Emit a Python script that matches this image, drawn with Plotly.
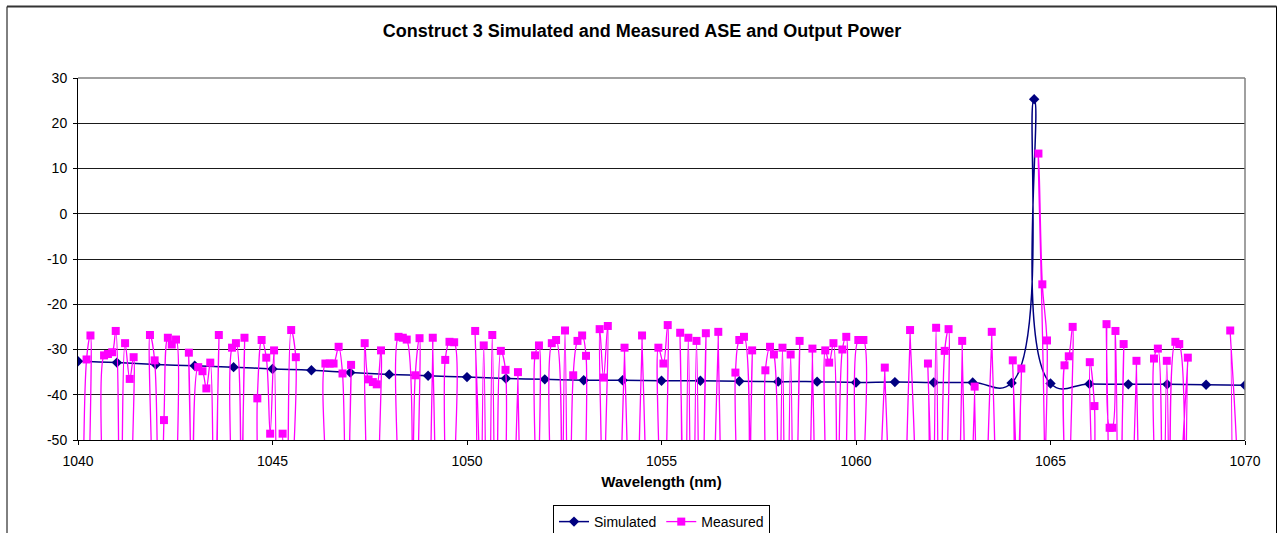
import plotly.graph_objects as go

# ---------------- data ----------------
sim_wavelength = [1040, 1041, 1042, 1043, 1044, 1045, 1046, 1047, 1048, 1049,
                  1050, 1051, 1052, 1053, 1054, 1055, 1056, 1057, 1058, 1059,
                  1060, 1061, 1062, 1063, 1064, 1064.58, 1065, 1066, 1067, 1068,
                  1069, 1070]
sim_power = [-32.6, -32.9, -33.3, -33.6, -33.9, -34.3, -34.6, -35.1, -35.5, -35.8,
             -36.1, -36.4, -36.6, -36.8, -36.8, -36.9, -36.9, -37.0, -37.1, -37.1,
             -37.3, -37.2, -37.3, -37.3, -37.4, 25.3, -37.5, -37.6, -37.7, -37.7,
             -37.8, -37.9]

D = -100  # measured samples far below the -50 axis floor (off chart)

meas_wavelength = [
    1040.12, 1040.22, 1040.32, 1040.42, 1040.57, 1040.67, 1040.77, 1040.88, 1040.97, 1041.09,
    1041.21, 1041.33, 1041.43, 1041.52, 1041.76, 1041.85, 1041.97, 1042.09,
    1042.21, 1042.31, 1042.41, 1042.52, 1042.61, 1042.76, 1042.85, 1042.97,
    1043.09, 1043.20, 1043.30, 1043.40, 1043.51, 1043.62, 1043.71, 1043.87,
    1043.96, 1044.06, 1044.17, 1044.28, 1044.37, 1044.52,
    1044.61, 1044.72, 1044.84, 1044.94, 1045.04, 1045.15, 1045.26, 1045.37,
    1045.48, 1045.60, 1045.69, 1046.27,
    1046.36, 1046.47, 1046.57, 1046.70, 1046.80, 1046.91, 1047.02, 1047.11, 1047.28,
    1047.37, 1047.47, 1047.58, 1047.68, 1047.79, 1047.88, 1048.15,
    1048.24, 1048.35, 1048.45, 1048.56, 1048.67, 1048.78, 1048.87, 1049.03,
    1049.12, 1049.21, 1049.35, 1049.44, 1049.55, 1049.67, 1049.76, 1050.12,
    1050.21, 1050.32, 1050.43, 1050.54, 1050.65, 1050.76, 1050.87, 1050.99, 1051.08, 1051.22,
    1051.31, 1051.40, 1051.66, 1051.75, 1051.85, 1051.94, 1052.09,
    1052.18, 1052.29, 1052.40, 1052.52, 1052.62,
    1052.73, 1052.84, 1052.96, 1053.06, 1053.15, 1053.32,
    1053.41, 1053.51, 1053.62, 1053.71, 1053.96,
    1054.05, 1054.14, 1054.41, 1054.50, 1054.59, 1054.83,
    1054.92, 1055.05, 1055.16, 1055.25, 1055.39,
    1055.48, 1055.58, 1055.69, 1055.79, 1055.90, 1056.02, 1056.14, 1056.23, 1056.37,
    1056.46, 1056.55, 1056.81,
    1056.90, 1057.00, 1057.12, 1057.22, 1057.33, 1057.42, 1057.58,
    1057.67, 1057.79, 1057.89, 1058.00, 1058.11, 1058.21, 1058.32, 1058.43,
    1058.55, 1058.64, 1058.79, 1058.88, 1058.97, 1059.12,
    1059.21, 1059.31, 1059.42, 1059.53, 1059.65, 1059.75, 1059.84, 1059.97,
    1060.06, 1060.19, 1060.28, 1060.65, 1060.74, 1060.83, 1061.30,
    1061.39, 1061.48, 1061.76, 1061.85, 1061.95, 1062.06, 1062.17,
    1062.28, 1062.38, 1062.47, 1062.64, 1062.73, 1062.82, 1062.96,
    1063.05, 1063.14, 1063.40, 1063.49, 1063.58, 1063.94,
    1064.03, 1064.14, 1064.25, 1064.34, 1064.60,
    1064.69, 1064.79, 1064.91, 1065.00, 1065.27,
    1065.36, 1065.47, 1065.57, 1065.66, 1065.92,
    1066.01, 1066.13, 1066.22, 1066.35,
    1066.44, 1066.52, 1066.59, 1066.67, 1066.77, 1066.88, 1066.97, 1067.12,
    1067.21, 1067.30, 1067.57, 1067.66, 1067.76, 1067.87, 1067.99, 1068.10,
    1068.21, 1068.31, 1068.42, 1068.53, 1068.62, 1069.53, 1069.62, 1069.71,
]
meas_power = [
    D, -32.2, -26.9, D, D, -31.3, -31.0, -30.6, -25.9, D,
    -28.6, -36.5, -31.7, D, D, -26.8, -32.4, D,
    -45.6, -27.4, -28.9, -27.8, D, D, -30.7, D,
    -33.9, -34.8, -38.6, -32.9, D, -26.8, D, D,
    -29.6, -28.6, D, -27.4, D, D,
    -40.8, -27.9, -31.8, -48.6, -30.2, D, -48.6, D,
    -25.7, -31.7, D, D,
    -33.1, -33.1, -33.1, -29.4, -35.3, D, -33.4, D, D,
    -28.6, -36.6, -37.2, -37.7, -30.2, D, D,
    -27.2, -27.4, -27.8, D, -35.7, -27.5, D, D,
    -27.4, D, D, -32.3, -28.3, -28.4, D, D,
    -25.9, D, -29.1, D, -26.8, D, -30.3, -34.5, D, D,
    -35.0, D, D, -31.3, -29.1, D, D,
    -28.6, -27.9, D, -25.8, D,
    -35.7, -28.1, -26.9, -31.4, D, D,
    -25.5, -36.2, -24.8, D, D,
    -29.6, D, D, -26.9, D, D,
    -29.6, -33.1, -24.6, D, D,
    -26.3, D, -27.4, D, -28.1, D, -26.4, D, D,
    -26.1, D, D,
    -35.1, -27.9, -27.2, D, -30.2, D, D,
    -34.6, -29.4, -31.1, D, -29.6, D, -31.1, D,
    -28.1, D, D, -29.8, D, D,
    -30.2, -32.9, -28.6, D, -30.0, -27.2, D, D,
    -27.9, -27.9, D, D, -34.0, D, D,
    -25.7, D, D, -33.1, D, -25.2, D,
    -30.3, -25.5, D, D, -28.1, D, D,
    -38.2, D, D, -26.1, D, D,
    -32.4, D, -34.2, D, D,
    13.3, -15.6, -28.0, D, D,
    -33.5, -31.5, -25.0, D, D,
    -32.8, -42.5, D, D,
    -24.4, -47.3, -47.3, -25.9, D, -28.8, D, D,
    -32.5, D, D, -32.0, -29.8, D, -32.5, D,
    -28.3, -28.8, D, -31.8, D, D, -25.8, D,
]

y_tick_values = [-50, -40, -30, -20, -10, 0, 10, 20, 30]
y_tick_labels = ["-50", "-40", "-30", "-20", "-10", "0", "10", "20", "30"]
x_tick_values = [1040, 1045, 1050, 1055, 1060, 1065, 1070]

title_text = "Construct 3 Simulated and Measured ASE and Output Power"
x_title = "Wavelength (nm)"

# ---------------- figure ----------------
W, H = 1278, 533
L, R, T, B = 78, 33, 78, 93
pw, ph = W - L - R, H - T - B


def px2x(px):
    return (px - L) / pw


def py2y(py):
    return (H - B - py) / ph


fig = go.Figure()
fig.add_trace(go.Scatter(
    x=sim_wavelength, y=sim_power, name="Simulated",
    mode="lines+markers",
    line=dict(color="#000080", width=1.5, shape="spline", smoothing=1.3),
    marker=dict(symbol="diamond", size=8, color="#000080"),
))
fig.add_trace(go.Scatter(
    x=meas_wavelength, y=meas_power, name="Measured",
    mode="lines+markers",
    line=dict(color="#FF00FF", width=1.3, shape="spline", smoothing=1),
    marker=dict(symbol="square", size=8, color="#FF00FF"),
))

font_family = "Liberation Sans, Arial, sans-serif"

fig.update_layout(
    width=W, height=H,
    margin=dict(l=L, r=R, t=T, b=B, autoexpand=False),
    paper_bgcolor="white", plot_bgcolor="white",
    font=dict(family=font_family, size=14, color="black"),
    title=dict(text="<b>" + title_text + "</b>", x=642 / W,
               xref="container", xanchor="center",
               y=1 - 31 / H, yref="container", yanchor="middle",
               font=dict(size=18, family=font_family, color="black")),
    showlegend=True,
    legend=dict(orientation="h", x=0.5, xanchor="center",
                y=py2y(505), yanchor="top",
                bordercolor="black", borderwidth=1, bgcolor="white",
                font=dict(size=14, family=font_family),
                itemwidth=30, tracegroupgap=0),
    xaxis=dict(range=[1040, 1070], tickvals=x_tick_values,
               showgrid=False, zeroline=False,
               showline=True, linecolor="black", linewidth=1,
               ticks="outside", ticklen=4, tickcolor="black",
               ticklabelstandoff=4,
               tickfont=dict(size=14),
               title=dict(text="<b>" + x_title + "</b>", standoff=8,
                          font=dict(size=15))),
    yaxis=dict(range=[-50, 30], tickvals=y_tick_values, ticktext=y_tick_labels,
               showgrid=True, gridcolor="#1a1a1a", gridwidth=1,
               zeroline=False,
               showline=True, linecolor="black", linewidth=1,
               ticks="outside", ticklen=4, tickcolor="black",
               ticklabelstandoff=3,
               tickfont=dict(size=14)),
    shapes=[
        # plot-area border (top & right, grey)
        dict(type="line", xref="paper", yref="paper", x0=0, x1=1, y0=1, y1=1,
             line=dict(color="#808080", width=1.5)),
        dict(type="line", xref="paper", yref="paper", x0=1, x1=1, y0=0, y1=1,
             line=dict(color="#808080", width=1.5)),
        # chart-area frame
        dict(type="rect", xref="paper", yref="paper",
             x0=px2x(7), x1=px2x(1276.5), y0=py2y(560), y1=py2y(6.5),
             line=dict(color="black", width=1), fillcolor="rgba(0,0,0,0)"),
        dict(type="line", xref="paper", yref="paper",
             x0=px2x(7), x1=px2x(1276.5), y0=py2y(6.5), y1=py2y(6.5),
             line=dict(color="#333333", width=2)),
    ],
)

fig.write_html(
    "out.html",
    config={"displayModeBar": False},
    post_script="document.body.style.margin='0';document.body.style.overflow='hidden';",
)
